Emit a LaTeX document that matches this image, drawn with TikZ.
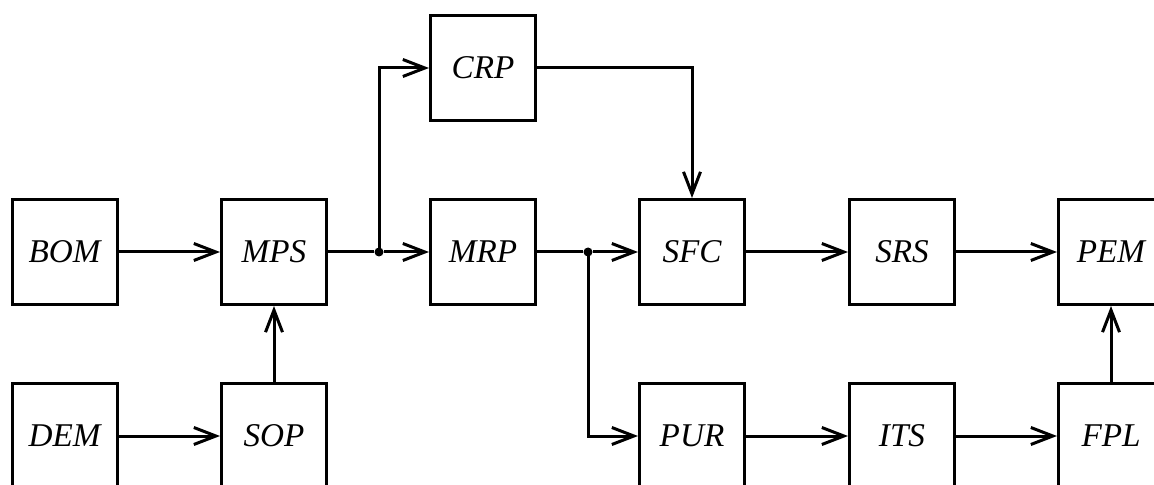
\documentclass[tikz,border=0pt]{standalone}
\usepackage{fontspec}
\setmainfont{Liberation Serif}
\usetikzlibrary{arrows.meta}
\begin{document}
\begin{tikzpicture}[x=0.5pt,y=-0.5pt,
  box/.style={draw, line width=1.5pt, minimum width=52.5pt, minimum height=52.5pt, inner sep=0pt, font=\fontsize{16.6}{19}\selectfont\itshape},
  conn/.style={line width=1.5pt, -{Straight Barb[length=11pt,width=8.5pt]}},
  plain/.style={line width=1.5pt},
  jdot/.style={circle, fill, inner sep=0pt, minimum size=4.5pt}]
\useasboundingbox (0,0) rectangle (1154,485);
\clip (0,0) rectangle (1154,485);
\node[box] (crp) at (483,68) {CRP};
\node[box] (bom) at (64.5,252) {BOM};
\node[box] (mps) at (274,252) {MPS};
\node[box] (mrp) at (483,252) {MRP};
\node[box] (sfc) at (692,252) {SFC};
\node[box] (srs) at (902,252) {SRS};
\node[box] (pem) at (1111,252) {PEM};
\node[box] (dem) at (64.5,436) {DEM};
\node[box] (sop) at (274,436) {SOP};
\node[box] (pur) at (692,436) {PUR};
\node[box] (its) at (902,436) {ITS};
\node[box] (fpl) at (1111,436) {FPL};
\node[jdot] (j1) at (379,252) {};
\node[jdot] (j2) at (588,252) {};
\draw[conn] (bom) -- (mps);
\draw[conn] (dem) -- (sop);
\draw[conn] (sop) -- (mps);
\draw[plain] (mps) -- (j1);
\draw[conn] (j1) -- (mrp);
\draw[conn] (j1.center) |- (crp);
\draw[conn] (crp) -| (sfc);
\draw[plain] (mrp) -- (j2);
\draw[conn] (j2) -- (sfc);
\draw[conn] (j2.center) |- (pur);
\draw[conn] (sfc) -- (srs);
\draw[conn] (srs) -- (pem);
\draw[conn] (pur) -- (its);
\draw[conn] (its) -- (fpl);
\draw[conn] (fpl) -- (pem);
\end{tikzpicture}
\end{document}
